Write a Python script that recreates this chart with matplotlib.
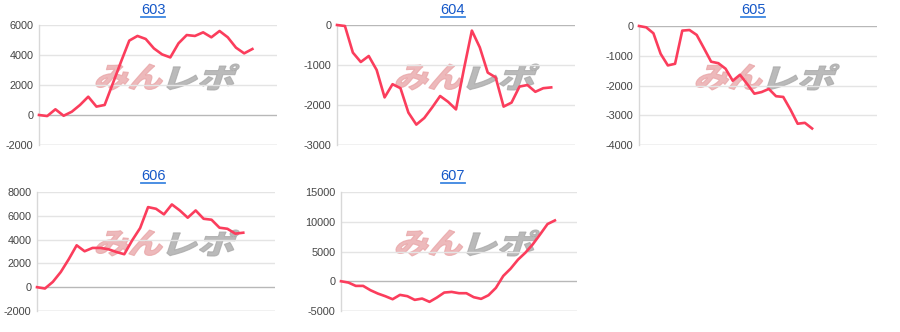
import matplotlib
matplotlib.use("Agg")
import matplotlib.pyplot as plt
from matplotlib.textpath import TextPath
from matplotlib.patches import PathPatch
from matplotlib.font_manager import FontProperties
from matplotlib.transforms import Affine2D
from matplotlib.lines import Line2D

# machine numbers (panel titles)
titles = ["603", "604", "605", "606", "607"]

# daily cumulative difference per machine
v603 = [0, -70, 380, -50, 220, 670, 1220, 560, 670, 2110, 3560, 4960, 5270, 5070,
        4440, 4040, 3840, 4780, 5330, 5270, 5510, 5180, 5600, 5180, 4490, 4110, 4400]
v604 = [0, -25, -690, -925, -775, -1125, -1810, -1480, -1580, -2190, -2490, -2325,
        -2060, -1775, -1920, -2110, -1100, -140, -560, -1190, -1310, -2040, -1940,
        -1540, -1500, -1670, -1580, -1560]
v605 = [0, -45, -245, -935, -1325, -1270, -155, -135, -300, -745, -1200, -1250,
        -1435, -1840, -1640, -1950, -2275, -2220, -2115, -2360, -2385, -2810, -3285,
        -3255, -3445]
v606 = [0, -110, 450, 1280, 2350, 3520, 3020, 3300, 3300, 3190, 2960, 2770, 3940,
        4970, 6730, 6590, 6120, 6955, 6450, 5840, 6450, 5750, 5670, 5000, 4910, 4500,
        4580]
v607 = [0, -220, -780, -780, -1510, -2070, -2510, -3020, -2290, -2510, -3130, -2910,
        -3460, -2740, -1900, -1790, -2010, -2010, -2680, -2960, -2350, -1120, 890,
        2120, 3630, 4800, 6200, 7880, 9610, 10220]
series = [v603, v604, v605, v606, v607]

# y ticks per panel
yticks = [
    [-2000, 0, 2000, 4000, 6000],
    [-3000, -2000, -1000, 0],
    [-4000, -3000, -2000, -1000, 0],
    [-2000, 0, 2000, 4000, 6000, 8000],
    [-5000, 0, 5000, 10000, 15000],
]
# horizontal span of each x axis (in days)
xspan = [29, 30, 33, 30, 32]

W, H = 900, 332
# plot area boxes in pixels: left, top, right, bottom
boxes = [
    (39, 25, 277, 145),
    (337, 25, 575, 145),
    (639, 26, 877, 145),
    (37, 192, 275, 311),
    (341, 192, 577, 311),
]
# cell origins for titles / watermark
cells = [(0, 0), (300, 0), (600, 0), (0, 166), (300, 166)]

plt.rcParams['font.family'] = ['Liberation Sans', 'DejaVu Sans']
fig = plt.figure(figsize=(W / 100, H / 100), dpi=100)
fig.patch.set_facecolor("white")

jp = FontProperties(family="Noto Sans CJK JP", weight="black")


def watermark(cx, cy):
    # "みん" pink + "レポ" grey, slanted like the logo
    parts = [("みん", "#e8a2a4", 0.75, -36), ("レポ", "#a9a9a9", 0.8, 36)]
    for s, col, a, dx in parts:
        tp = TextPath((0, 0), s, size=30, prop=jp)
        bb = tp.get_extents()
        sx = 66 / bb.width
        sy = 26 / bb.height
        tr = (Affine2D().translate(-bb.x0 - bb.width / 2, -bb.y0 - bb.height / 2)
              .scale(sx, sy).skew_deg(18, 0)
              .translate(cx + dx, H - cy))
        p = PathPatch(tp, facecolor=col, edgecolor=col, lw=0.8, alpha=a,
                      transform=tr, zorder=0)
        fig.patches.append(p)
        p.set_figure(fig)


for i in range(5):
    l, t, r, b = boxes[i]
    ax = fig.add_axes([l / W, 1 - b / H, (r - l) / W, (b - t) / H])
    ax.set_facecolor("none")
    ax.set_zorder(2)
    ticks = yticks[i]
    ax.set_ylim(ticks[0], ticks[-1])
    ax.set_xlim(0, xspan[i])
    for tk in ticks:
        if tk == 0 or tk == ticks[0]:
            col = "#b8b8b8"
        else:
            col = "#e4e4e4"
        ax.axhline(tk, color=col, lw=1, zorder=1)
    vals = series[i]
    ax.plot(range(len(vals)), vals, color="#fb3d5c", lw=1.9, zorder=3,
            solid_joinstyle="round", clip_on=False)
    ax.set_yticks(ticks)
    ax.set_yticklabels([str(tk) for tk in ticks])
    ax.set_xticks([])
    ax.tick_params(axis="y", length=0, pad=4, labelsize=7.8, labelcolor="#444444")
    for sp in ["top", "right", "bottom"]:
        ax.spines[sp].set_visible(False)
    ax.spines["left"].set_color("#d8d8d8")
    ax.spines["left"].set_linewidth(1)

    cx, cy = cells[i]
    watermark(cx + 167, cy + 77)

# titles, underlined like links
tobjs = []
for i in range(5):
    cx, cy = cells[i]
    tx = fig.text((cx + 153) / W, 1 - (cy + 10) / H, titles[i], ha="center",
                  va="center", fontsize=10.5, color="#1558c8")
    tobjs.append(tx)

fig.canvas.draw()
for tx in tobjs:
    bb = tx.get_window_extent()
    y = bb.y0 - 0.3
    fig.add_artist(Line2D([bb.x0 / W, bb.x1 / W], [y / H, y / H],
                          color="#3d86e0", lw=1.3, transform=fig.transFigure))

fig.savefig("out.png", dpi=100, facecolor="white")
